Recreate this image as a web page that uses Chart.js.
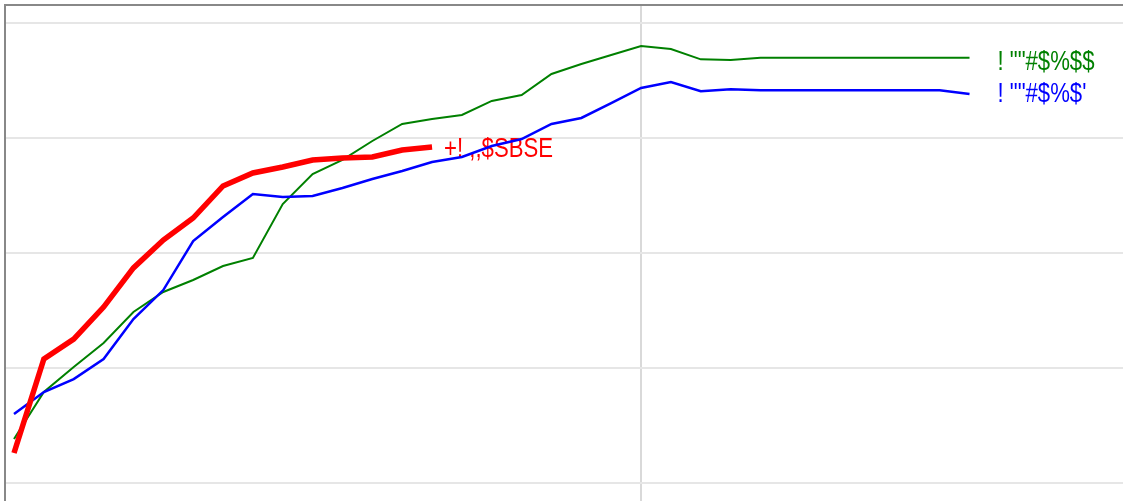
<!DOCTYPE html>
<html>
<head>
<meta charset="utf-8">
<script src="https://cdn.jsdelivr.net/npm/chart.js@4"></script>
<style>
  html, body { margin: 0; padding: 0; background: #fff; }
  #frame {
    position: absolute; left: 4px; top: 4px;
    width: 1119px; height: 497px;
    border-left: 2px solid #888; border-top: 2px solid #888;
  }
  #chart_wrap { position: relative; width: 1117px; height: 495px; }
</style>
</head>
<body>
<div id="frame"><div id="chart_wrap"><canvas id="lineChart_data"></canvas></div></div>
<script>
// x positions of the samples
const steps = [0,1,2,3,4,5,6,7,8,9,10,11,12,13,14,15,16,17,18,19,20,21,22,23,24,25,26,27,28,29,30,31,32];

const greenVals = [3.83,7.91,10.09,12.17,14.87,16.61,17.65,18.87,19.57,24.26,26.87,28.09,29.74,31.22,31.65,32.0,
    33.22,33.74,35.57,36.43,37.22,38.0,37.74,36.84,36.78,36.98,36.98,36.98,36.98,36.98,36.98,36.98,36.98];
const blueVals = [6.0,7.91,9.04,10.78,14.26,16.78,21.04,23.13,25.13,24.87,24.96,25.65,26.43,27.13,27.91,28.35,
    29.30,29.91,31.22,31.74,33.04,34.35,34.87,34.06,34.23,34.15,34.15,34.15,34.15,34.15,34.15,34.15,33.83];
const redVals = [2.61,10.78,12.52,15.30,18.70,21.13,23.04,25.83,26.96,27.48,28.09,28.26,28.35,28.96,29.22];

const seriesNames = ['+! ,,$SBSE', '! ""#$%$$', '! ""#$%$\''];
const yTicks = [0,10,20,30,40];
const xTicks = [21];

function toPoints(vals){
    return vals.map(function(v, i){ return {x: steps[i], y: v}; });
}

// text at the end of each line, offset from its last point
// (narrow sans: Liberation Sans squeezed horizontally)
const endLabels = {
    id: 'endLabels',
    beforeDatasetsDraw: function(chart, args, opts){
        const ctx = chart.ctx;
        chart.data.datasets.forEach(function(ds, i){
            const meta = chart.getDatasetMeta(i);
            const last = meta.data[meta.data.length - 1];
            const off = opts.offsets[i];
            ctx.save();
            ctx.translate(last.x + off[0], last.y + off[1]);
            ctx.scale(0.82, 1);
            ctx.font = '27px "Liberation Sans", Arial, sans-serif';
            ctx.textBaseline = 'alphabetic';
            ctx.textAlign = 'left';
            ctx.fillStyle = ds.borderColor;
            ctx.fillText(ds.label, 0, 0);
            ctx.restore();
        });
    }
};

const dt = {
    datasets: [{
        label: seriesNames[0],
        data: toPoints(redVals),
        borderColor: '#ff0000',
        borderWidth: 5.5
    },{
        label: seriesNames[2],
        data: toPoints(blueVals),
        borderColor: '#0000ff',
        borderWidth: 2.5
    },{
        label: seriesNames[1],
        data: toPoints(greenVals),
        borderColor: '#008000',
        borderWidth: 2
    }]
};

const config_line = {
    type: 'line',
    data: dt,
    options: {
        responsive: true,
        maintainAspectRatio: false,
        animation: false,
        layout: { padding: 0 },
        elements: { point: { radius: 0 }, line: { tension: 0, fill: false } },
        plugins: {
            legend: { display: false },
            tooltip: { enabled: false },
            endLabels: { offsets: [[12, 10], [28, 8], [28, 12]] }
        },
        scales: {
            x: {
                type: 'linear',
                min: -0.268,
                max: 37.14,
                afterBuildTicks: function(s){ s.ticks = xTicks.map(function(v){ return {value: v}; }); },
                afterFit: function(s){ s.height = 0; },
                ticks: { display: false },
                border: { display: false },
                grid: { color: '#d9d9d9', lineWidth: 2, drawTicks: false }
            },
            y: {
                type: 'linear',
                min: -1.565,
                max: 41.478,
                afterBuildTicks: function(s){ s.ticks = yTicks.map(function(v){ return {value: v}; }); },
                afterFit: function(s){ s.width = 0; },
                ticks: { display: false },
                border: { display: false },
                grid: { color: '#e6e6e6', lineWidth: 2, drawTicks: false }
            }
        }
    },
    plugins: [endLabels]
};

const lineChart_data = new Chart(
    document.getElementById('lineChart_data'),
    config_line
);
</script>
</body>
</html>
